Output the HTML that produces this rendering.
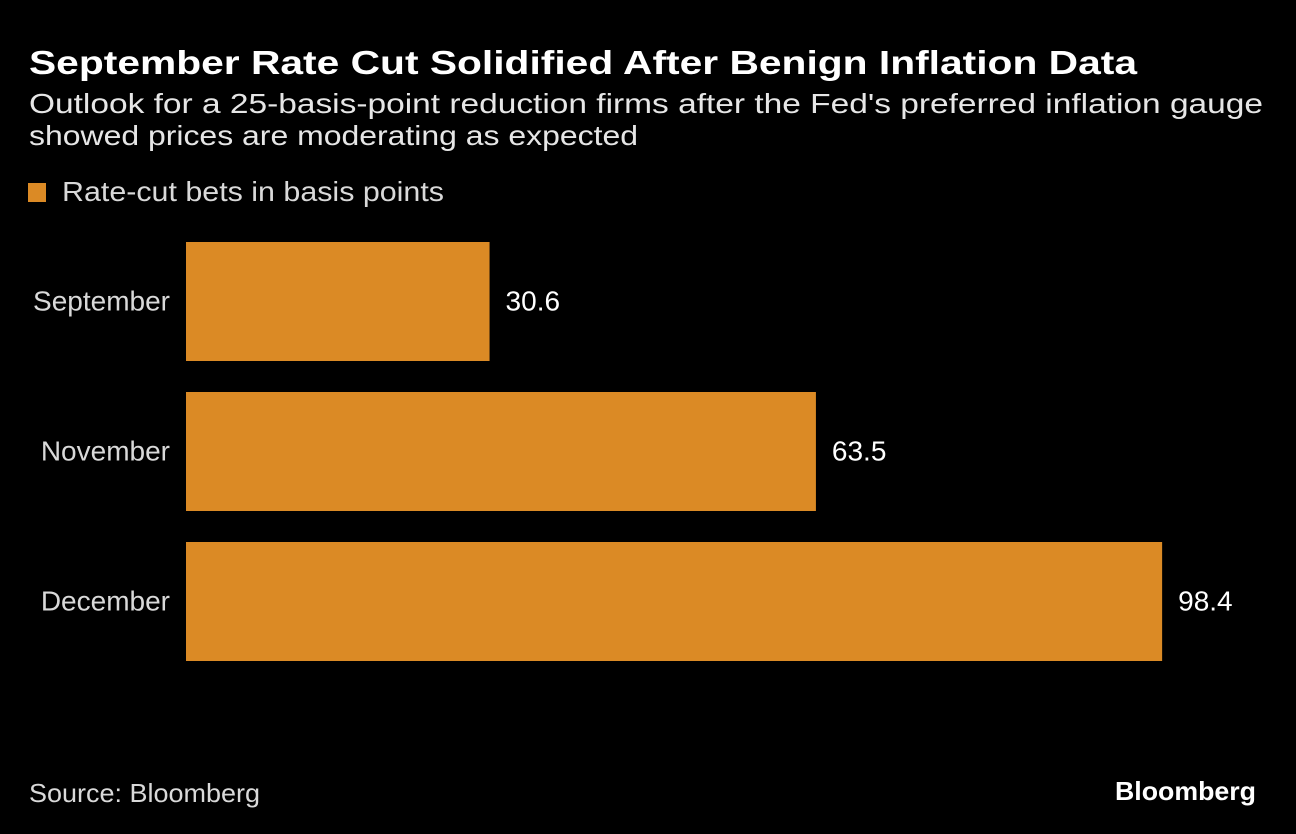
<!DOCTYPE html>
<html><head><meta charset="utf-8"><style>
html,body{margin:0;padding:0;background:#000;}
svg{display:block;}
text{font-family:"Liberation Sans",sans-serif;}
</style></head><body>
<svg id="chart" width="1296" height="834" viewBox="0 0 1296 834">
<rect width="1296" height="834" fill="#000"/>
<text x="29" y="74" font-size="33" font-weight="bold" fill="#fff" textLength="1108" lengthAdjust="spacingAndGlyphs">September Rate Cut Solidified After Benign Inflation Data</text>
<text x="29" y="113" font-size="28" fill="#e6e6e6" textLength="1234" lengthAdjust="spacingAndGlyphs">Outlook for a 25-basis-point reduction firms after the Fed's preferred inflation gauge</text>
<text x="29" y="145" font-size="28" fill="#e6e6e6" textLength="609" lengthAdjust="spacingAndGlyphs">showed prices are moderating as expected</text>
<rect x="28" y="183" width="18" height="19" fill="#DB8A25"/>
<text x="62" y="201" font-size="28" fill="#d9d9d9" textLength="382" lengthAdjust="spacingAndGlyphs">Rate-cut bets in basis points</text>
<g id="bars"></g>
<text x="29" y="802" font-size="26" fill="#d9d9d9" textLength="231" lengthAdjust="spacingAndGlyphs">Source: Bloomberg</text>
<text x="1256" y="800" font-size="26" font-weight="bold" fill="#fff" text-anchor="end" textLength="141" lengthAdjust="spacingAndGlyphs">Bloomberg</text>
</svg>
<script>
const categories = ["September", "November", "December"];
const values = [30.6, 63.5, 98.4];
const valueLabels = ["30.6", "63.5", "98.4"];

const NS = "http://www.w3.org/2000/svg";
const x0 = 186, pxPerUnit = 9.92;
function xScale(v){ return x0 + v * pxPerUnit; }
function yBand(i){ return 242 + i * 150; }
const bandH = 119;
const g = document.getElementById("bars");
categories.forEach((c, i) => {
  const r = document.createElementNS(NS, "rect");
  r.setAttribute("x", x0);
  r.setAttribute("y", yBand(i));
  r.setAttribute("width", xScale(values[i]) - x0);
  r.setAttribute("height", bandH);
  r.setAttribute("fill", "#DB8A25");
  
  
  g.appendChild(r);
  const l = document.createElementNS(NS, "text");
  l.setAttribute("x", 170);
  l.setAttribute("y", yBand(i) + bandH / 2 + 9);
  l.setAttribute("text-anchor", "end");
  l.setAttribute("font-size", "28");
  l.setAttribute("fill", "#d9d9d9");
  l.textContent = c;
  
  
  g.appendChild(l);
  const v = document.createElementNS(NS, "text");
  v.setAttribute("x", xScale(values[i]) + 16);
  v.setAttribute("y", yBand(i) + bandH / 2 + 9);
  v.setAttribute("font-size", "28");
  v.setAttribute("fill", "#fff");
  v.textContent = valueLabels[i];
  
  
  g.appendChild(v);
});
</script>
</body></html>
